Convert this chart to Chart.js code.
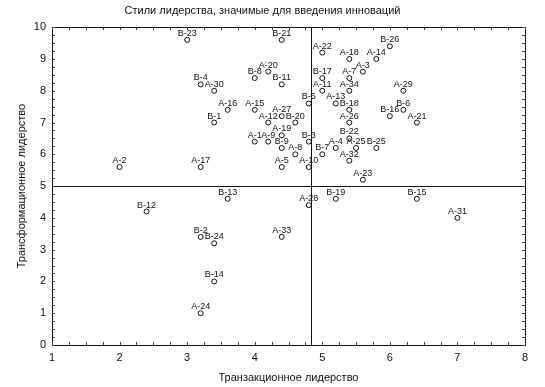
<!DOCTYPE html>
<html>
<head>
<meta charset="utf-8">
<script src="https://cdn.jsdelivr.net/npm/chart.js@4"></script>
<style>
  html, body { margin: 0; padding: 0; background: #fff; }
  #wrap { width: 545px; height: 387px; }
</style>
</head>
<body>
<div id="wrap"><canvas id="myChart"></canvas></div>
<script>
const pointNames = [
  "B-23", "B-21", "B-4", "A-30", "A-16", "B-1", "B-8", "A-20", "B-11", "A-15",
  "A-27", "A-12", "B-20", "A-19", "A-1", "A-9", "B-9", "A-8", "A-5", "A-10",
  "B-3", "B-7", "B-5", "B-17", "A-11", "A-28", "B-19", "B-15", "A-31", "A-23",
  "A-32", "A-4", "A-25", "B-25", "B-22", "A-26", "B-26", "A-22", "A-18", "A-14",
  "A-3", "A-7", "A-34", "A-13", "B-18", "A-29", "B-6", "B-16", "A-21", "A-2",
  "A-17", "B-12", "B-13", "B-2", "B-24", "B-14", "A-24", "A-33"
];
const transactional = [
  3.0, 4.4, 3.2, 3.4, 3.6, 3.4, 4.0, 4.2, 4.4, 4.0,
  4.4, 4.2, 4.6, 4.4, 4.0, 4.2, 4.4, 4.6, 4.4, 4.8,
  4.8, 5.0, 4.8, 5.0, 5.0, 4.8, 5.2, 6.4, 7.0, 5.6,
  5.4, 5.2, 5.5, 5.8, 5.4, 5.4, 6.0, 5.0, 5.4, 5.8,
  5.6, 5.4, 5.4, 5.2, 5.4, 6.2, 6.2, 6.0, 6.4, 2.0,
  3.2, 2.4, 3.6, 3.2, 3.4, 3.4, 3.2, 4.4
];
const transformational = [
  9.6, 9.6, 8.2, 8.0, 7.4, 7.0, 8.4, 8.6, 8.2, 7.4,
  7.2, 7.0, 7.0, 6.6, 6.4, 6.4, 6.2, 6.0, 5.6, 5.6,
  6.4, 6.0, 7.6, 8.4, 8.0, 4.4, 4.6, 4.6, 4.0, 5.2,
  5.8, 6.2, 6.2, 6.2, 6.5, 7.0, 9.4, 9.2, 9.0, 9.0,
  8.6, 8.4, 8.0, 7.6, 7.4, 8.0, 7.4, 7.2, 7.0, 5.6,
  5.6, 4.2, 4.6, 3.4, 3.2, 2.0, 1.0, 3.4
];
const xTicks = [1, 2, 3, 4, 5, 6, 7, 8];
const yTicks = [0, 1, 2, 3, 4, 5, 6, 7, 8, 9, 10];
const splitX = 4.83;
const splitY = 5;

const fontFamily = "'Liberation Sans', Arial, sans-serif";

const quadrantPlugin = {
  id: "quadrants",
  afterDatasetsDraw(chart) {
    const ctx = chart.ctx;
    const area = chart.chartArea;
    const xs = chart.scales.x;
    const ys = chart.scales.y;
    ctx.save();
    ctx.strokeStyle = "#111";
    ctx.lineWidth = 1;
    // frame
    ctx.strokeRect(Math.round(area.left) + 0.5, Math.round(area.top) + 0.5,
      Math.round(area.right - area.left), Math.round(area.bottom - area.top));
    // split lines
    const px = Math.round(xs.getPixelForValue(splitX)) + 0.5;
    const py = Math.round(ys.getPixelForValue(splitY)) + 0.5;
    ctx.beginPath();
    ctx.moveTo(px, area.top);
    ctx.lineTo(px, area.bottom);
    ctx.moveTo(area.left, py);
    ctx.lineTo(area.right, py);
    ctx.stroke();
    // inward ticks
    ctx.strokeStyle = "#444";
    ctx.beginPath();
    for (let v = xs.min; v <= xs.max + 0.001; v += 0.25) {
      const x = Math.round(xs.getPixelForValue(v)) + 0.5;
      ctx.moveTo(x, area.bottom); ctx.lineTo(x, area.bottom - 3);
      ctx.moveTo(x, area.top); ctx.lineTo(x, area.top + 3);
    }
    for (let v = ys.min; v <= ys.max + 0.001; v += 0.25) {
      const y = Math.round(ys.getPixelForValue(v)) + 0.5;
      ctx.moveTo(area.left, y); ctx.lineTo(area.left + 3, y);
      ctx.moveTo(area.right, y); ctx.lineTo(area.right - 3, y);
    }
    ctx.stroke();
    // point names
    ctx.fillStyle = "#111";
    ctx.font = "9px " + fontFamily;
    ctx.textAlign = "center";
    ctx.textBaseline = "alphabetic";
    const meta = chart.getDatasetMeta(0);
    meta.data.forEach((pt, i) => {
      ctx.fillText(pointNames[i], pt.x, pt.y - 4);
    });
    ctx.restore();
  }
};

const ctx = document.getElementById("myChart");
new Chart(ctx, {
  type: "scatter",
  data: {
    datasets: [
      {
        label: "Стили лидерства",
        data: transactional.map((x, i) => ({ x: x, y: transformational[i] })),
        pointRadius: 2.5,
        pointBorderWidth: 1,
        pointBorderColor: "#111",
        pointBackgroundColor: "#fff",
      },
    ],
  },
  options: {
    responsive: true,
    maintainAspectRatio: false,
    animation: false,
    layout: { padding: { left: 0, right: 20, top: 0, bottom: 0 } },
    plugins: {
      legend: { display: false },
      tooltip: { enabled: false },
      title: {
        display: true,
        text: "Стили лидерства, значимые для введения инноваций",
        color: "#111",
        font: { family: fontFamily, size: 11, weight: "normal" },
        padding: { top: 4, bottom: 10 },
      },
    },
    scales: {
      x: {
        type: "linear",
        min: 1,
        max: 8,
        afterBuildTicks: (scale) => { scale.ticks = xTicks.map((v) => ({ value: v })); },
        afterFit: (scale) => { scale.height = 42; },
        grid: { display: false, drawTicks: false },
        border: { display: false },
        ticks: { color: "#111", padding: 6, font: { family: fontFamily, size: 11 } },
        title: {
          display: true,
          text: "Транзакционное лидерство",
          color: "#111",
          font: { family: fontFamily, size: 11 },
          padding: { top: 0, bottom: 2 },
        },
      },
      y: {
        type: "linear",
        min: 0,
        max: 10,
        afterBuildTicks: (scale) => { scale.ticks = yTicks.map((v) => ({ value: v })); },
        afterFit: (scale) => { scale.width = 52; },
        grid: { display: false, drawTicks: false },
        border: { display: false },
        ticks: { color: "#111", padding: 6, font: { family: fontFamily, size: 11 } },
        title: {
          display: true,
          text: "Трансформационное лидерство",
          color: "#111",
          font: { family: fontFamily, size: 11 },
          padding: { top: 15, bottom: 0 },
        },
      },
    },
  },
  plugins: [quadrantPlugin],
});
</script>
</body>
</html>
